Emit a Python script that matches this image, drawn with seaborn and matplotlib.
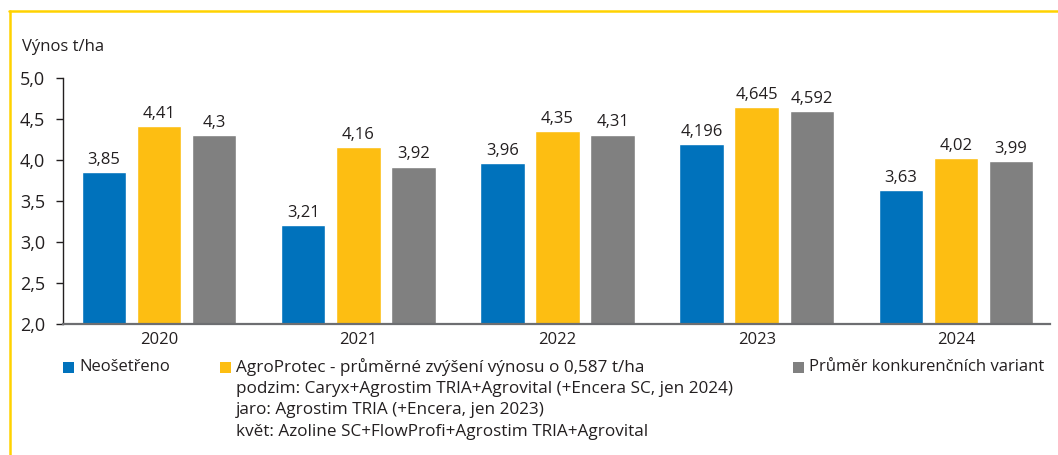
import matplotlib
matplotlib.use("Agg")
import matplotlib.pyplot as plt
from matplotlib.patches import Rectangle
from matplotlib.lines import Line2D
import seaborn as sns
import pandas as pd

# --- data -------------------------------------------------------------
roky = ["2020", "2021", "2022", "2023", "2024"]
neosetreno = [3.85, 3.21, 3.96, 4.196, 3.63]
agroprotec = [4.41, 4.16, 4.35, 4.645, 4.02]
konkurence = [4.3, 3.92, 4.31, 4.592, 3.99]
varianty = ["Neošetřeno", "AgroProtec", "Průměr konkurenčních variant"]
y_ticks = [2.0, 2.5, 3.0, 3.5, 4.0, 4.5, 5.0]

legenda_agroprotec = [
    "AgroProtec - průměrné zvýšení výnosu o 0,587 t/ha",
    "podzim: Caryx+Agrostim TRIA+Agrovital (+Encera SC, jen 2024)",
    "jaro: Agrostim TRIA (+Encera, jen 2023)",
    "květ: Azoline SC+FlowProfi+Agrostim TRIA+Agrovital",
]

barvy = ["#0072BC", "#FDBE12", "#808080"]

df = pd.DataFrame({
    "rok": roky * 3,
    "vynos": neosetreno + agroprotec + konkurence,
    "varianta": [varianty[0]] * 5 + [varianty[1]] * 5 + [varianty[2]] * 5,
})

# --- figure -----------------------------------------------------------
sns.set_theme(style="white")
FONT = ["Open Sans", "DejaVu Sans"]
plt.rcParams["font.family"] = FONT
TXT = "#231F20"

W, H = 1058, 455
fig = plt.figure(figsize=(W / 100, H / 100), dpi=100)
fig.patch.set_facecolor("white")


def fx(px):
    return px / W


def fy(py):
    return 1 - py / H


ax = fig.add_axes([fx(63), fy(324), fx(1050) - fx(63), fy(78) - fy(324)])

sns.barplot(
    data=df, x="rok", y="vynos", hue="varianta", order=roky,
    hue_order=varianty, palette=barvy, saturation=1,
    width=0.83, gap=0.19, legend=False, ax=ax,
)

ax.set_ylim(2.0, 5.0)
ax.set_xlim(-0.482, 4.472)
ax.set_yticks(y_ticks)
ax.set_yticklabels([f"{t:.1f}".replace(".", ",") for t in y_ticks])
ax.set_xlabel("")
ax.set_ylabel("")

for side in ("top", "right"):
    ax.spines[side].set_visible(False)
ax.spines["left"].set_color("#231F20")
ax.spines["left"].set_linewidth(1.0)
ax.spines["bottom"].set_color("#6D6E71")
ax.spines["bottom"].set_linewidth(1.6)

ax.tick_params(axis="y", which="major", direction="out", length=5, width=1,
               color="#231F20", pad=8, labelsize=13, labelcolor=TXT, left=True)
ax.tick_params(axis="x", length=0, pad=6, labelsize=12, labelcolor=TXT)

for cont in ax.containers:
    labels = [f"{v:g}".replace(".", ",") for v in cont.datavalues]
    ax.bar_label(cont, labels=labels, padding=3, fontsize=12, color=TXT)

fig.text(fx(22), fy(47), "Výnos t/ha", ha="left", va="center",
         fontsize=12, color=TXT)

# --- legend -----------------------------------------------------------
SQ = 11
legend_items = [
    (63, barvy[0], [varianty[0]], 12),
    (220, barvy[1], legenda_agroprotec, 12.3),
    (793, barvy[2], [varianty[2]], 12),
]
row_y = [367, 389, 410.5, 432]
for x0, col, lines, size in legend_items:
    fig.patches.append(Rectangle((fx(x0), fy(367 + SQ / 2)), fx(SQ), SQ / H,
                                 transform=fig.transFigure, facecolor=col,
                                 edgecolor="none"))
    for i, line in enumerate(lines):
        fig.text(fx(x0 + 16), fy(row_y[i]), line, ha="left", va="center",
                 fontsize=size, color=TXT)

# --- frame ------------------------------------------------------------
frame = "#FFD200"
fig.add_artist(Line2D([fx(9), 1.0], [fy(10.5), fy(10.5)],
                      transform=fig.transFigure, color=frame, linewidth=1.8))
fig.add_artist(Line2D([fx(9.5), fx(9.5)], [fy(10.5), 0.0],
                      transform=fig.transFigure, color=frame, linewidth=1.8))

fig.savefig("out.png", dpi=100, facecolor="white")
